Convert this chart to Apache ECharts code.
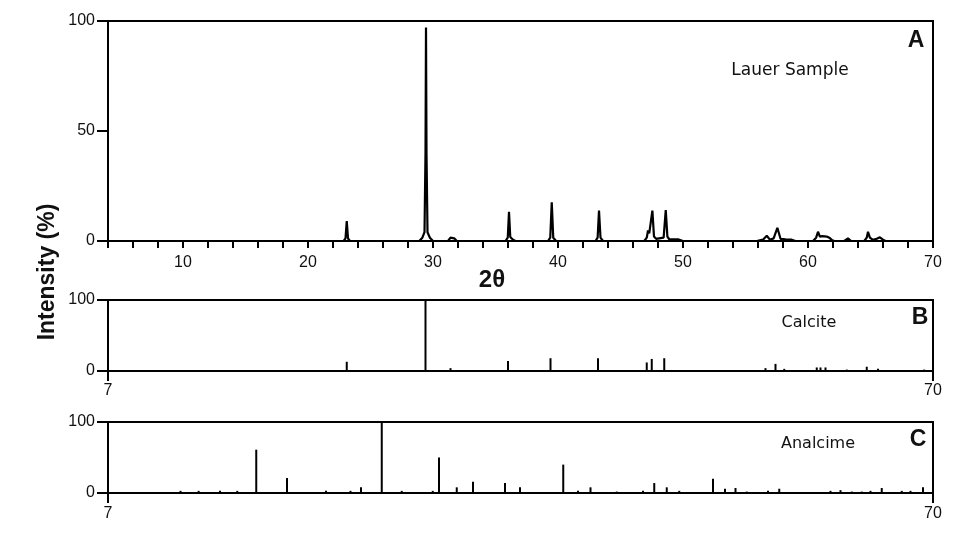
<!DOCTYPE html>
<html>
<head>
<meta charset="utf-8">
<script src="https://cdn.jsdelivr.net/npm/echarts@6/dist/echarts.min.js"></script>
<style>html,body{margin:0;padding:0;background:#fff}#c{width:975px;height:535px}</style>
</head>
<body>
<div id="c"></div>
<script>
// Panel A: measured diffraction profile of the Lauer sample, [2theta, intensity %]
var lauerProfile = [
  [4,0],[22.85,0],[23.0,1.2],[23.1,9],[23.2,1.2],[23.35,0],
  [28.9,0],[29.15,1.5],[29.32,4],[29.4,40],[29.44,97],[29.48,40],[29.56,4],[29.75,1.5],[30.0,0],
  [31.2,0],[31.4,1.5],[31.55,2.4],[31.7,1.2],[31.9,0],
  [35.8,0],[35.98,1.5],[36.08,13.3],[36.18,1.8],[36.4,0.6],[36.6,0],
  [39.2,0],[39.38,1.5],[39.5,17.6],[39.62,1.5],[39.85,0],
  [43.0,0],[43.17,1.5],[43.28,13.8],[43.4,1.5],[43.6,0],
  [46.9,0],[47.1,1.5],[47.2,4.8],[47.3,3.5],[47.42,4],[47.55,13.8],[47.68,2],[47.85,1],
  [48.45,1.5],[48.62,14.1],[48.75,2],[48.9,0.8],[49.6,0.8],[50.0,0],
  [55.9,0],[56.4,0.6],[56.7,2.4],[56.95,0.6],[57.25,1.2],[57.55,6],[57.8,1],[58.2,0.8],[58.7,0.6],[59.0,0],
  [60.4,0],[60.65,1.5],[60.8,4.2],[60.95,2],[61.15,2.2],[61.3,1.5],[61.5,2],[61.7,1.5],[61.9,0.5],[62.1,0],
  [62.9,0],[63.2,1.2],[63.45,0],
  [64.5,0],[64.7,1.5],[64.8,4.2],[64.95,1.5],[65.2,0.5],[65.5,1],[65.75,1.7],[66.0,0.6],[66.2,0],
  [70,0]
];
// Panel B: calcite reference lines
var calcitePos = [23.1, 29.4, 31.4, 36.0, 39.4, 43.2, 47.1, 47.5, 48.5, 56.6, 57.4, 58.1, 60.7, 61.0, 61.4, 63.1, 64.7, 65.6, 69.3];
var calciteInt = [13, 100, 4, 14, 18, 18, 12, 17, 18, 4, 10, 3, 5, 5, 5, 2, 6, 3, 2];
// Panel C: analcime reference lines
var analcimePos = [9.8, 11.25, 12.96, 14.34, 15.86, 18.32, 21.44, 23.4, 24.24, 25.9, 27.5, 29.98, 30.48, 31.9, 33.2, 35.76, 36.96,
  40.42, 41.6, 42.6, 44.7, 46.8, 47.7, 48.7, 49.7, 52.4, 53.36, 54.2, 55.1, 56.8, 57.7, 61.8, 62.6, 63.5, 64.3, 65.0, 65.9, 67.5, 68.2, 69.2];
var analcimeInt = [3, 3, 3, 3, 61, 21, 3, 3, 8, 100, 3, 3, 50, 8, 16, 14, 8,
  40, 3, 8, 2, 3, 14, 8, 3, 20, 6, 7, 2, 3, 6, 3, 4, 2, 2, 3, 7, 3, 3, 8];
// Tick labels
var xTicksA = ['10', '20', '30', '40', '50', '60', '70'];
var xTicksBC = ['7', '70'];
var yTicksA = ['0', '50', '100'];
var yTicksBC = ['0', '100'];

function pairs(p, v) { return p.map(function (x, i) { return [x, v[i]]; }); }

var FONT = 'Liberation Sans';
var FONT2 = 'DejaVu Sans';
var lbl = { color: '#111', fontSize: 16, fontFamily: FONT };

function xAxisA() {
  return {
    type: 'value', gridIndex: 0, min: 4, max: 70, interval: 2,
    axisLine: { lineStyle: { color: '#000', width: 2 } },
    axisTick: { length: 7, lineStyle: { color: '#000', width: 2 } },
    splitLine: { show: false },
    axisLabel: Object.assign({}, lbl, { margin: 14, showMinLabel: true, showMaxLabel: true,
      formatter: function (v) { var s = String(v); return xTicksA.indexOf(s) >= 0 ? s : ''; } })
  };
}
function xAxisBC(gi, margin) {
  return {
    type: 'value', gridIndex: gi, min: 4, max: 70, interval: 66,
    axisLine: { lineStyle: { color: '#000', width: 2 } },
    axisTick: { length: 10, lineStyle: { color: '#000', width: 2 } },
    splitLine: { show: false },
    axisLabel: Object.assign({}, lbl, { margin: margin, showMinLabel: true, showMaxLabel: true,
      formatter: function (v) { return v === 4 ? xTicksBC[0] : xTicksBC[1]; } })
  };
}
function yAxis(gi, interval, ticks) {
  return {
    type: 'value', gridIndex: gi, min: 0, max: 100, interval: interval,
    axisLine: { show: true, lineStyle: { color: '#000', width: 2 } },
    axisTick: { show: true, length: 11, lineStyle: { color: '#000', width: 2 } },
    splitLine: { show: false },
    axisLabel: Object.assign({}, lbl, { margin: 13,
      formatter: function (v) { return ticks.indexOf(String(v)) >= 0 ? String(v) : ''; } })
  };
}

var gridStyle = { show: true, borderColor: '#000', borderWidth: 2, backgroundColor: 'transparent' };

function txt(x, y, t, size, weight, fam, rot) {
  return { type: 'text', x: x, y: y, rotation: rot || 0,
    style: { text: t, fill: '#111', font: weight + ' ' + size + 'px "' + fam + '"', textAlign: 'center', textVerticalAlign: 'middle' } };
}

var chart = echarts.init(document.getElementById('c'), null, { renderer: 'canvas' });
chart.setOption({
  animation: false,
  backgroundColor: '#fff',
  grid: [
    Object.assign({ left: 108, top: 21, width: 825, height: 220 }, gridStyle),
    Object.assign({ left: 108, top: 300, width: 825, height: 71 }, gridStyle),
    Object.assign({ left: 108, top: 422, width: 825, height: 71 }, gridStyle)
  ],
  xAxis: [xAxisA(), xAxisBC(1, 12), xAxisBC(2, 13)],
  yAxis: [yAxis(0, 50, yTicksA), yAxis(1, 100, yTicksBC), yAxis(2, 100, yTicksBC)],
  series: [
    { type: 'line', xAxisIndex: 0, yAxisIndex: 0, data: lauerProfile, showSymbol: false, symbol: 'none',
      lineStyle: { color: '#000', width: 2.2 } },
    { type: 'bar', xAxisIndex: 1, yAxisIndex: 1, data: pairs(calcitePos, calciteInt), barWidth: 2,
      itemStyle: { color: '#000' } },
    { type: 'bar', xAxisIndex: 2, yAxisIndex: 2, data: pairs(analcimePos, analcimeInt), barWidth: 2,
      itemStyle: { color: '#000' } }
  ],
  graphic: [
    txt(916, 41, 'A', 23, 'bold', FONT),
    txt(790, 71, 'Lauer Sample', 17, 'normal', FONT2),
    txt(492, 280, '2θ', 24, 'bold', FONT),
    txt(920, 318, 'B', 23, 'bold', FONT),
    txt(809, 323, 'Calcite', 16, 'normal', FONT2),
    txt(918, 440, 'C', 23, 'bold', FONT),
    txt(818, 444, 'Analcime', 16, 'normal', FONT2),
    txt(48, 272, 'Intensity (%)', 23, 'bold', FONT, Math.PI / 2)
  ]
});
</script>
</body>
</html>
